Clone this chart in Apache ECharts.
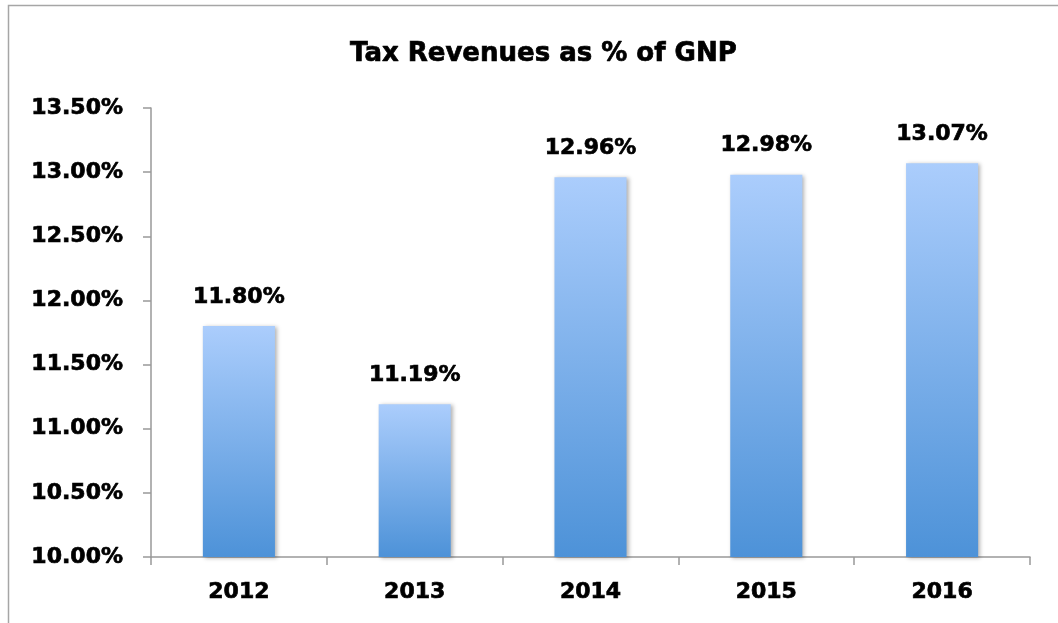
<!DOCTYPE html>
<html><head><meta charset="utf-8">
<script src="https://cdn.jsdelivr.net/npm/echarts@6/dist/echarts.min.js"></script>
<style>html,body{margin:0;padding:0;background:#fff}#c{width:1058px;height:623px}</style>
</head><body><div id="c"></div>
<script>
const categories = ['2012','2013','2014','2015','2016'];
const values = [11.80, 11.19, 12.96, 12.98, 13.07];
const yMin = 10, yMax = 13.5, yInterval = 0.5;
const titleText = 'Tax Revenues as % of GNP';
const FONT = '"DejaVu Sans", sans-serif';
const heavy = {textBorderColor:'#000', textBorderWidth:0.7};
const chart = echarts.init(document.getElementById('c'));
chart.setOption({
  animation: false,
  backgroundColor: '#fff',
  graphic: [{type:'rect', shape:{x:8.5,y:5.5,width:1200,height:800}, style:{fill:'none', stroke:'#a6a6a6', lineWidth:1.5}, silent:true, z:-1}],
  title: {text: titleText, left: 345, top: 36, textStyle:Object.assign({fontFamily:FONT, fontWeight:'bold', fontSize:26, color:'#000'}, heavy)},
  grid: {left:151, right:28, top:108, bottom:66},
  xAxis: {
    type:'category', data: categories,
    axisLine:{lineStyle:{color:'#999', width:1.5}},
    axisTick:{show:true, length:8, lineStyle:{color:'#999', width:1.5}},
    axisLabel:Object.assign({margin:24, fontFamily:FONT, fontWeight:'bold', fontSize:22, color:'#000'}, heavy)
  },
  yAxis: {
    type:'value', min:yMin, max:yMax, interval:yInterval,
    axisLine:{show:true, lineStyle:{color:'#999', width:1.5}},
    axisTick:{show:true, length:8, lineStyle:{color:'#999', width:1.5}},
    splitLine:{show:false},
    axisLabel:Object.assign({margin:28, fontFamily:FONT, fontWeight:'bold', fontSize:22, color:'#000', formatter:v=>v.toFixed(2)+'%'}, heavy)
  },
  series: [{
    type:'bar', data: values, barCategoryGap:'59%',
    itemStyle:{
      color: new echarts.graphic.LinearGradient(0,0,0,1,[{offset:0,color:'#abcdfc'},{offset:1,color:'#4d92d8'}]),
      shadowColor:'rgba(0,0,0,0.3)', shadowBlur:4, shadowOffsetX:2, shadowOffsetY:1
    },
    label:Object.assign({show:true, position:'top', distance:18, fontFamily:FONT, fontWeight:'bold', fontSize:22, color:'#000', formatter:p=>p.value.toFixed(2)+'%'}, heavy)
  }]
});
</script></body></html>
